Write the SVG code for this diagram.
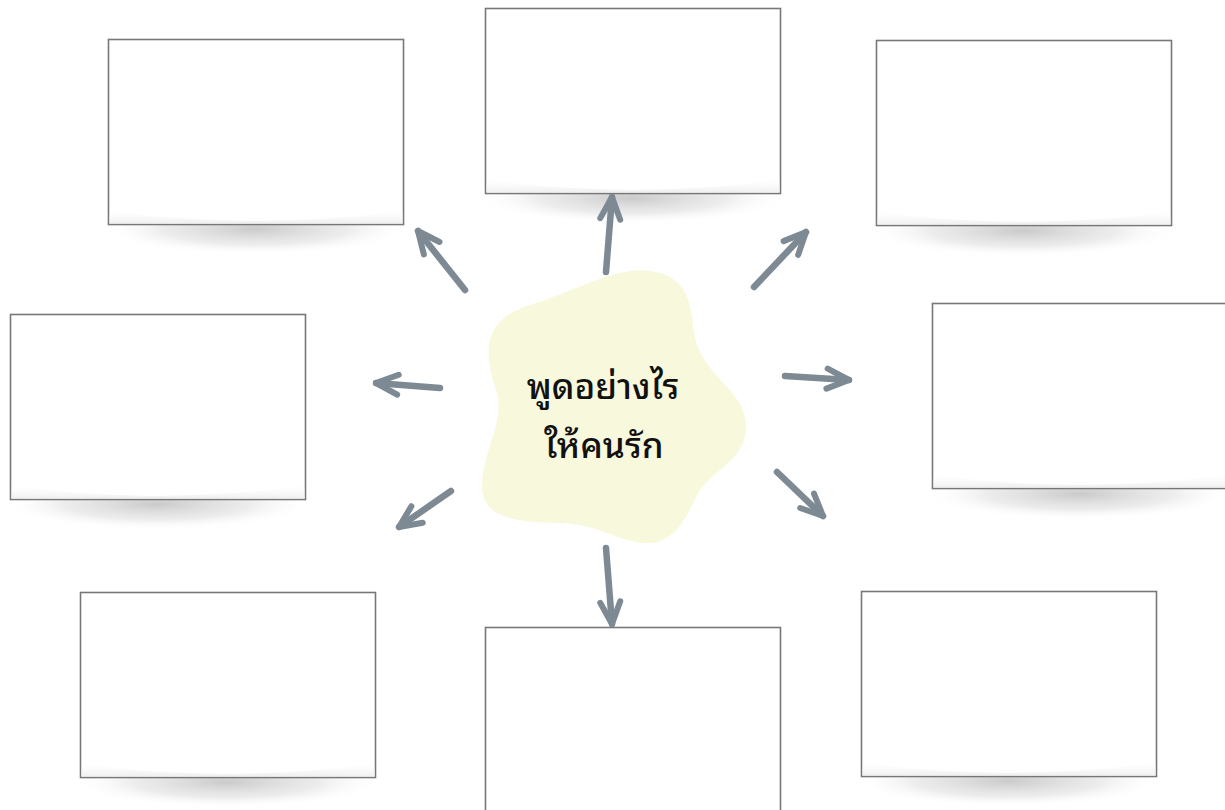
<svg xmlns="http://www.w3.org/2000/svg" width="1225" height="810" viewBox="0 0 1225 810">
<defs>
<radialGradient id="sh" cx="0.5" cy="0.5" r="0.5">
<stop offset="0" stop-color="#c4c4c4" stop-opacity="0.9"/>
<stop offset="0.6" stop-color="#dadada" stop-opacity="0.5"/>
<stop offset="1" stop-color="#ffffff" stop-opacity="0"/>
</radialGradient>
<linearGradient id="curl" x1="0" y1="0" x2="0" y2="1">
<stop offset="0" stop-color="#ffffff" stop-opacity="0"/>
<stop offset="1" stop-color="#efefef" stop-opacity="1"/>
</linearGradient>
<marker id="ah" markerUnits="userSpaceOnUse" viewBox="-30 -15 34 30" refX="0" refY="0" markerWidth="34" markerHeight="30" orient="auto">
<path d="M -22,-10 L 0,0 L -22,10" fill="none" stroke="#7d8993" stroke-width="6" stroke-linecap="round" stroke-linejoin="round"/>
</marker>
</defs>
<style>
.box rect.b{fill:#ffffff;stroke:#777777;stroke-width:1.6}
.box ellipse{fill:url(#sh)}
.box path.c{fill:url(#curl)}
.arr path{fill:none;stroke:#7d8993;stroke-width:6.5;stroke-linecap:round;marker-end:url(#ah)}
.t{font-family:"Noto Sans Thai Looped","Noto Sans Thai","Noto Sans","Liberation Sans",sans-serif;font-size:35px;fill:#111111;text-anchor:middle;font-weight:500}
</style>
<rect width="1225" height="810" fill="#ffffff"/>

<g id="box-tl" class="box">
<ellipse cx="255" cy="229" rx="155" ry="26"/>
<rect class="b" x="108.5" y="39.5" width="295" height="185"/>
<path class="c" d="M109.5,208 Q140,219 255,221 Q370,219 402.5,208 L402.5,223.5 L109.5,223.5 Z"/>
</g>
<g id="box-tc" class="box">
<ellipse cx="632" cy="198" rx="155" ry="26"/>
<rect class="b" x="485.5" y="8.5" width="295" height="185"/>
<path class="c" d="M486.5,177 Q517,188 632,190 Q747,188 779.5,177 L779.5,192.5 L486.5,192.5 Z"/>
</g>
<g id="box-tr" class="box">
<ellipse cx="1023" cy="231" rx="155" ry="26"/>
<rect class="b" x="876.5" y="40.5" width="295" height="185"/>
<path class="c" d="M877.5,209 Q908,220 1023,222 Q1138,220 1170.5,209 L1170.5,224.5 L877.5,224.5 Z"/>
</g>
<g id="box-ml" class="box">
<ellipse cx="157" cy="504" rx="155" ry="26"/>
<rect class="b" x="10.5" y="314.5" width="295" height="185"/>
<path class="c" d="M11.5,483 Q42,494 157,496 Q272,494 304.5,483 L304.5,498.5 L11.5,498.5 Z"/>
</g>
<g id="box-mr" class="box">
<ellipse cx="1079" cy="494" rx="155" ry="26"/>
<rect class="b" x="932.5" y="303.5" width="295" height="185"/>
<path class="c" d="M933.5,472 Q964,483 1079,485 Q1194,483 1226.5,472 L1226.5,487.5 L933.5,487.5 Z"/>
</g>
<g id="box-bl" class="box">
<ellipse cx="227" cy="782" rx="155" ry="26"/>
<rect class="b" x="80.5" y="592.5" width="295" height="185"/>
<path class="c" d="M81.5,761 Q112,772 227,774 Q342,772 374.5,761 L374.5,776.5 L81.5,776.5 Z"/>
</g>
<g id="box-bc" class="box">
<rect class="b" x="485.5" y="627.5" width="295" height="185"/>
</g>
<g id="box-br" class="box">
<ellipse cx="1008" cy="781" rx="155" ry="26"/>
<rect class="b" x="861.5" y="591.5" width="295" height="185"/>
<path class="c" d="M862.5,760 Q893,771 1008,773 Q1123,771 1155.5,760 L1155.5,775.5 L862.5,775.5 Z"/>
</g>

<g id="center">
<path d="M530,305 C580,290 620,262 660,273 C700,284 688,330 700,352 C715,382 746,395 746,427 C746,462 708,472 697,495 C686,520 672,545 645,543 C615,541 600,524 560,523 C520,522 481,520 482,485 C483,450 506,420 496,390 C486,360 478,320 530,305 Z" fill="#f7f8dc"/>
<text class="t" x="603" y="399">พูดอย่างไร</text>
<text class="t" x="604" y="458">ให้คนรัก</text>
</g>

<g id="connectors" class="arr">
<path d="M465,290 L418,231"/>
<path d="M606,272 L612,197"/>
<path d="M754,287 L806,232"/>
<path d="M440,388 L376,383"/>
<path d="M785,376 L849,380"/>
<path d="M451,491 L399,527"/>
<path d="M606,548 L612,624"/>
<path d="M777,472 L823,516"/>
</g>
</svg>
